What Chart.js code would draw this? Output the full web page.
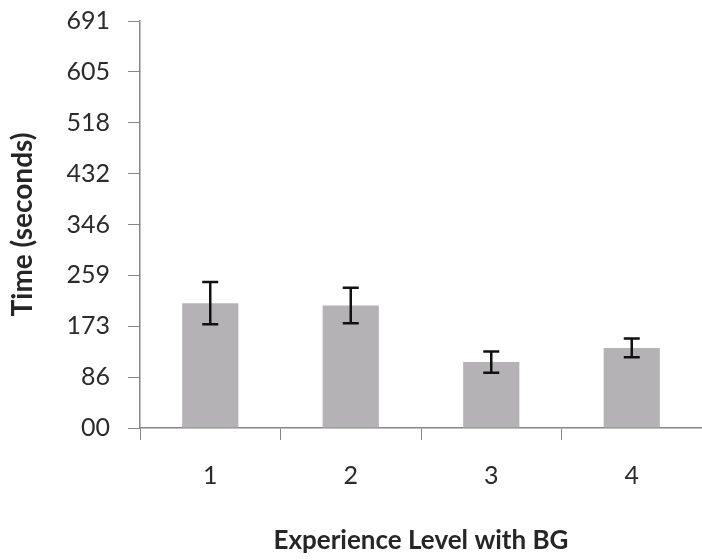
<!DOCTYPE html>
<html>
<head>
<meta charset="utf-8">
<script src="https://cdn.jsdelivr.net/npm/chart.js@4"></script>
<style>
  html, body { margin: 0; padding: 0; background: #ffffff; }
  #wrap { width: 702px; height: 560px; }
</style>
</head>
<body>
<div id="wrap"><canvas id="c" width="702" height="560"></canvas></div>
<script>
// Experience levels and mean completion time with standard error
const levels = ['1', '2', '3', '4'];
const meanTime = [212, 208, 112, 136];
const errTime = [36, 30, 18, 16];

// Y axis tick values and their printed labels
const yTickValues = [0, 86.4, 172.8, 259.2, 345.6, 432, 518.4, 604.8, 691.2];
const yTickLabels = ['00', '86', '173', '259', '346', '432', '518', '605', '691'];

const axisGray = '#868686';
const textColor = '#2b2b2b';
const fontFamily = 'Lato, "Open Sans", sans-serif';

// Draws capped error bars on top of each bar
const errorBars = {
  id: 'errorBars',
  afterDatasetsDraw(chart) {
    const ctx = chart.ctx;
    const y = chart.scales.y;
    const meta = chart.getDatasetMeta(0);
    ctx.save();
    ctx.strokeStyle = '#111111';
    ctx.lineWidth = 2.5;
    meta.data.forEach((bar, i) => {
      const yTop = y.getPixelForValue(meanTime[i] + errTime[i]);
      const yBot = y.getPixelForValue(meanTime[i] - errTime[i]);
      const half = 8;
      ctx.beginPath();
      ctx.moveTo(bar.x, yTop);
      ctx.lineTo(bar.x, yBot);
      ctx.moveTo(bar.x - half, yTop);
      ctx.lineTo(bar.x + half, yTop);
      ctx.moveTo(bar.x - half, yBot);
      ctx.lineTo(bar.x + half, yBot);
      ctx.stroke();
    });
    ctx.restore();
  }
};

new Chart(document.getElementById('c'), {
  type: 'bar',
  data: {
    labels: levels,
    datasets: [{
      data: meanTime,
      backgroundColor: '#b4b2b4',
      borderWidth: 0,
      barPercentage: 0.8,
      categoryPercentage: 0.5
    }]
  },
  options: {
    responsive: false,
    animation: false,
    layout: { padding: { top: 21, right: 0, left: 0, bottom: 0 } },
    plugins: { legend: { display: false }, tooltip: { enabled: false } },
    scales: {
      x: {
        grid: {
          display: true,
          drawOnChartArea: false,
          drawTicks: true,
          tickLength: 12,
          color: axisGray,
          offset: true
        },
        border: { display: true, color: axisGray, width: 1.5 },
        ticks: {
          color: textColor,
          font: { family: fontFamily, size: 25 },
          padding: 21,
          maxRotation: 0
        },
        title: {
          display: true,
          text: 'Experience Level with BG',
          color: '#262626',
          font: { family: fontFamily, size: 26, weight: 'bold' },
          padding: { top: 10, bottom: 4 }
        },
        afterFit(scale) {
          scale.height = 132;
          scale.paddingLeft = 0;
          scale.paddingRight = 0;
        }
      },
      y: {
        min: 0,
        max: 691.2,
        afterBuildTicks(scale) {
          scale.ticks = yTickValues.map(v => ({ value: v }));
        },
        grid: {
          display: true,
          drawOnChartArea: false,
          drawTicks: true,
          tickLength: 12,
          color: axisGray
        },
        border: { display: true, color: axisGray, width: 1.5 },
        ticks: {
          color: textColor,
          font: { family: fontFamily, size: 25 },
          padding: 18,
          callback: (v, i) => yTickLabels[i]
        },
        title: {
          display: true,
          text: 'Time (seconds)',
          color: '#262626',
          font: { family: fontFamily, size: 28, weight: 'bold' },
          padding: { top: 6, bottom: 0 }
        },
        afterFit(scale) {
          scale.width = 140;
          scale.paddingTop = 0;
          scale.paddingBottom = 0;
        }
      }
    }
  },
  plugins: [errorBars]
});
</script>
</body>
</html>
